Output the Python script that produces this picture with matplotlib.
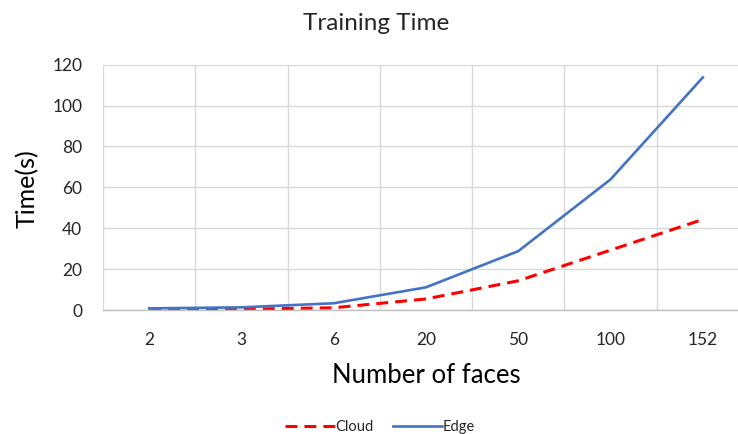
import matplotlib
matplotlib.use("Agg")
import matplotlib.pyplot as plt
import numpy as np

# Training time (seconds) for each number of faces
faces = ["2", "3", "6", "20", "50", "100", "152"]
cloud = [0.2, 0.4, 1.1, 5.4, 14.3, 29.3, 44.3]
edge = [0.8, 1.3, 3.3, 11.1, 28.8, 63.9, 113.8]
y_ticks = [0, 20, 40, 60, 80, 100, 120]

plt.rcParams["font.family"] = ["Lato", "DejaVu Sans"]
text_color = "#262626"

fig = plt.figure(figsize=(7.38, 4.34), dpi=100)
ax = fig.add_axes([0.1396, 0.2857, 0.8753, 0.5652])

x = np.arange(len(faces))
ax.plot(x, cloud, color="#FF0000", lw=2.2, linestyle=(0, (3.9, 2.3)),
        label="Cloud", solid_capstyle="butt", dash_capstyle="butt")
ax.plot(x, edge, color="#4472C4", lw=1.9, label="Edge")

ax.set_xlim(-0.5, len(faces) - 0.5)
ax.set_ylim(0, 120)
ax.set_xticks(x)
ax.set_xticklabels(faces)
ax.set_xticks(np.arange(-0.5, len(faces), 1.0), minor=True)
ax.set_yticks(y_ticks)

ax.grid(True, axis="y", which="major", color="#D9D9D9", lw=1.0)
ax.grid(True, axis="x", which="minor", color="#D9D9D9", lw=1.0)
ax.grid(False, axis="x", which="major")
ax.set_axisbelow(True)

for side in ["top", "right", "left"]:
    ax.spines[side].set_visible(False)
ax.spines["bottom"].set_color("#BFBFBF")
ax.spines["bottom"].set_linewidth(1.0)

ax.tick_params(axis="both", which="both", length=0, labelsize=12.5,
               labelcolor=text_color)
ax.tick_params(axis="y", pad=15)
ax.tick_params(axis="x", pad=16)

fig.text(0.509, 0.947, "Training Time", ha="center", va="center",
         fontsize=17.5, color=text_color)
fig.text(0.037, 0.565, "Time(s)", ha="center", va="center", rotation=90,
         fontsize=18, color="black")
fig.text(0.578, 0.134, "Number of faces", ha="center", va="center",
         fontsize=18.5, color="black")

fig.legend(loc="center", bbox_to_anchor=(0.515, 0.017), ncol=2,
           frameon=False, fontsize=10.5, handlelength=3.4,
           handletextpad=0.05, columnspacing=1.3, labelcolor=text_color)

fig.savefig("out.png", dpi=100)
